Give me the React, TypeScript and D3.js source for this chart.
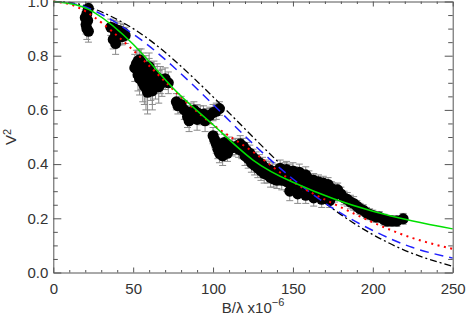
import React, { useEffect, useRef } from "react";
import * as d3 from "d3";

// model curves at these baselines
const modelB = [0, 10, 25, 50, 75, 100, 125, 150, 175, 200, 225, 250];
const udBlack = [1, 0.996, 0.974, 0.9, 0.787, 0.648, 0.5, 0.357, 0.235, 0.14, 0.07, 0.023];
const ldBlue = [1, 0.994, 0.968, 0.88, 0.76, 0.62, 0.475, 0.345, 0.237, 0.155, 0.092, 0.053];
const fitRed = [1, 0.99, 0.945, 0.82, 0.675, 0.545, 0.445, 0.335, 0.255, 0.185, 0.127, 0.087];
const fitGreen = [1, 0.993, 0.962, 0.842, 0.68, 0.545, 0.415, 0.333, 0.273, 0.226, 0.19, 0.161];

// observed points: [B/lambda, V^2, error]
const visC1 = [
  [22, 0.975, 0.02], [21, 0.955, 0.03], [20, 0.94, 0.03], [21.5, 0.93, 0.035],
  [20.5, 0.915, 0.035], [21, 0.9, 0.04], [22, 0.89, 0.04],
];
const visC2 = [
  [36, 0.905, 0.03], [38, 0.9, 0.03], [40, 0.895, 0.03], [42, 0.89, 0.03], [44, 0.885, 0.03],
  [45, 0.875, 0.03], [39, 0.88, 0.03], [41, 0.875, 0.035], [37.5, 0.86, 0.035], [39, 0.845, 0.04],
  [43, 0.87, 0.03],
];
const visC3 = [
  [51, 0.755, 0.05], [52, 0.77, 0.05], [53, 0.78, 0.04], [54, 0.785, 0.04], [55, 0.775, 0.05],
  [56, 0.76, 0.05], [53, 0.73, 0.06], [54, 0.715, 0.06], [56, 0.7, 0.07], [57, 0.69, 0.07],
  [58, 0.68, 0.08], [59, 0.72, 0.06], [60, 0.74, 0.05], [61, 0.705, 0.07], [62, 0.69, 0.07],
  [63, 0.73, 0.05], [64, 0.7, 0.06], [65, 0.72, 0.05], [66, 0.685, 0.06], [67, 0.71, 0.05],
  [68, 0.7, 0.05], [70, 0.715, 0.04], [72, 0.7, 0.04], [58, 0.75, 0.05], [60, 0.76, 0.05],
  [55, 0.735, 0.06], [62, 0.67, 0.07], [59, 0.665, 0.08],
];
const visC4 = [
  [77, 0.63, 0.03], [78, 0.615, 0.03], [80, 0.62, 0.03], [82, 0.6, 0.035], [84, 0.575, 0.04],
  [85, 0.56, 0.04], [86, 0.59, 0.035], [88, 0.6, 0.03], [90, 0.59, 0.03], [92, 0.58, 0.035],
  [94, 0.585, 0.03], [96, 0.575, 0.03], [98, 0.58, 0.03], [100, 0.59, 0.03], [102, 0.595, 0.03],
  [104, 0.605, 0.025], [90, 0.565, 0.04], [95, 0.56, 0.04],
];
const visC5 = [
  [100, 0.505, 0.03], [101, 0.49, 0.03], [102, 0.475, 0.035], [103, 0.455, 0.035], [104, 0.44, 0.035],
  [105, 0.465, 0.03], [107, 0.48, 0.03], [108, 0.455, 0.03], [110, 0.47, 0.03], [112, 0.46, 0.03],
  [114, 0.465, 0.03], [116, 0.455, 0.03], [106, 0.43, 0.035], [109, 0.44, 0.03],
];
const visC6 = [
  [117, 0.475, 0.03], [118, 0.45, 0.03], [119, 0.465, 0.03], [120, 0.43, 0.035], [121, 0.45, 0.03],
  [122, 0.42, 0.035], [123, 0.44, 0.03], [124, 0.405, 0.035], [125, 0.425, 0.03], [126, 0.395, 0.035],
  [127, 0.415, 0.03], [128, 0.385, 0.035], [129, 0.405, 0.03], [130, 0.375, 0.035], [131, 0.395, 0.03],
  [132, 0.365, 0.035], [133, 0.385, 0.03], [134, 0.36, 0.03], [135, 0.38, 0.03], [136, 0.35, 0.035],
  [137, 0.375, 0.03], [138, 0.345, 0.03], [139, 0.37, 0.03], [140, 0.34, 0.03], [141, 0.365, 0.03],
  [142, 0.385, 0.03], [143, 0.34, 0.035], [144, 0.36, 0.03], [145, 0.375, 0.03], [146, 0.335, 0.035],
  [147, 0.355, 0.03], [148, 0.37, 0.03], [149, 0.33, 0.03], [150, 0.35, 0.03], [151, 0.36, 0.03],
  [152, 0.325, 0.03], [153, 0.345, 0.03], [154, 0.355, 0.03], [155, 0.32, 0.03], [156, 0.34, 0.03],
  [157, 0.35, 0.03], [158, 0.315, 0.03], [159, 0.335, 0.03], [160, 0.345, 0.03], [161, 0.31, 0.03],
  [162, 0.33, 0.03], [163, 0.34, 0.025], [164, 0.305, 0.03], [165, 0.325, 0.025], [166, 0.335, 0.025],
  [167, 0.3, 0.03], [168, 0.32, 0.025], [169, 0.33, 0.025], [170, 0.295, 0.025], [171, 0.315, 0.025],
  [172, 0.325, 0.025], [173, 0.29, 0.025], [174, 0.31, 0.025], [175, 0.305, 0.025], [176, 0.285, 0.025],
  [177, 0.3, 0.025], [178, 0.305, 0.025], [146, 0.38, 0.03], [150, 0.375, 0.03], [154, 0.37, 0.03],
  [158, 0.36, 0.03], [148, 0.3, 0.035], [153, 0.29, 0.035], [158, 0.285, 0.03], [163, 0.275, 0.03],
  [168, 0.27, 0.03], [173, 0.265, 0.025],
];
const visC7 = [
  [180, 0.29, 0.025], [182, 0.275, 0.025], [184, 0.27, 0.025], [186, 0.26, 0.025], [188, 0.255, 0.025],
  [190, 0.245, 0.02], [192, 0.235, 0.02], [194, 0.23, 0.02], [196, 0.22, 0.02], [198, 0.215, 0.02],
  [200, 0.21, 0.02], [202, 0.205, 0.02], [204, 0.205, 0.02], [207, 0.195, 0.02], [209, 0.19, 0.02],
  [212, 0.19, 0.02], [215, 0.19, 0.02], [219, 0.198, 0.02],
];

const xMajor = [0, 50, 100, 150, 200, 250];
const xMinor = d3.range(10, 250, 10).filter((v) => v % 50 !== 0);
const yMajor = [0, 0.2, 0.4, 0.6, 0.8, 1.0];
const yMinor = d3.range(1, 20).map((i) => i * 0.05).filter((_, i) => (i + 1) % 4 !== 0);

const width = 466;
const height = 316;
const left = 53.3;
const right = 452.7;
const top = 1.5;
const bottom = 272.5;
const axisColor = "#555";
const font = "'Liberation Sans', Arial, Helvetica, sans-serif";

const Axis = ({ scale, orient, transform, values, size, labels, format, pad, domain }: any) => {
  const axisRef = useRef<SVGGElement>(null);

  useEffect(() => {
    const gen =
      orient === "bottom"
        ? d3.axisBottom(scale)
        : orient === "top"
        ? d3.axisTop(scale)
        : orient === "left"
        ? d3.axisLeft(scale)
        : d3.axisRight(scale);
    gen
      .tickValues(values)
      .tickSizeInner(-size)
      .tickSizeOuter(0)
      .tickPadding(pad || 0)
      .tickFormat(labels ? format : () => "");
    const g = d3.select(axisRef.current);
    g.call(gen as any);
    g.attr("color", axisColor);
    if (!domain) g.select(".domain").remove();
    g.selectAll("text")
      .style("font-family", font)
      .style("font-size", "15px")
      .attr("fill", "#333");
  }, [scale, orient, values, size, labels]);

  return <g ref={axisRef} transform={transform} />;
};

export default function App() {
  const x = d3.scaleLinear().domain([0, 250]).range([left, right]);
  const y = d3.scaleLinear().domain([0, 1]).range([bottom, top]);

  const line = d3
    .line<number>()
    .x((_, i) => x(modelB[i]))
    .y((d) => y(d))
    .curve(d3.curveNatural);

  const points = [...visC1, ...visC2, ...visC3, ...visC4, ...visC5, ...visC6, ...visC7];
  const fmt = d3.format(".1f");

  return (
    <svg width={width} height={height} style={{ position: "absolute", left: 0, top: 0, background: "#fff" }}>
      <rect x={0} y={0} width={width} height={height} fill="#fff" />
      {/* error bars */}
      <g stroke="#8a8a8a" strokeWidth={1}>
        {points.map((p, i) => {
          const cx = x(p[0]);
          const y1 = y(p[1] - p[2]);
          const y2 = y(p[1] + p[2]);
          return (
            <g key={i}>
              <line x1={cx} x2={cx} y1={y1} y2={y2} />
              <line x1={cx - 3.5} x2={cx + 3.5} y1={y1} y2={y1} />
              <line x1={cx - 3.5} x2={cx + 3.5} y1={y2} y2={y2} />
            </g>
          );
        })}
      </g>
      <g fill="#000">
        {points.map((p, i) => (
          <circle key={i} cx={x(p[0])} cy={y(p[1])} r={5.5} />
        ))}
      </g>
      {/* models */}
      <path d={line(udBlack) || ""} fill="none" stroke="#000" strokeWidth={1.3} strokeDasharray="7,3,2,3" />
      <path d={line(ldBlue) || ""} fill="none" stroke="#2020ff" strokeWidth={1.5} strokeDasharray="9,6" />
      <path d={line(fitRed) || ""} fill="none" stroke="#ff0000" strokeWidth={2} strokeDasharray="2,4.5" />
      <path d={line(fitGreen) || ""} fill="none" stroke="#00e000" strokeWidth={1.5} />

      {/* axes */}
      <Axis scale={x} orient="bottom" transform={`translate(0,${bottom})`} values={xMajor} size={5} labels format={(d: number) => String(d)} pad={11} domain />
      <Axis scale={x} orient="bottom" transform={`translate(0,${bottom})`} values={xMinor} size={2.5} />
      <Axis scale={x} orient="top" transform={`translate(0,${top})`} values={xMajor} size={5} domain />
      <Axis scale={x} orient="top" transform={`translate(0,${top})`} values={xMinor} size={2.5} />
      <Axis scale={y} orient="left" transform={`translate(${left},0)`} values={yMajor} size={8} labels format={(d: number) => fmt(d)} pad={5} domain />
      <Axis scale={y} orient="left" transform={`translate(${left},0)`} values={yMinor} size={4.5} />
      <Axis scale={y} orient="right" transform={`translate(${right},0)`} values={yMajor} size={8} domain />
      <Axis scale={y} orient="right" transform={`translate(${right},0)`} values={yMinor} size={4.5} />

      <text x={(left + right) / 2} y={313} textAnchor="middle" fontFamily={font} fontSize={15} fill="#333">
        B/λ x10
        <tspan fontSize={11} dy={-7}>−6</tspan>
      </text>
      <text transform={`translate(15.5,${(top + bottom) / 2}) rotate(-90)`} textAnchor="middle" fontFamily={font} fontSize={15} fill="#333">
        V<tspan fontSize={11} dy={-5}>2</tspan>
      </text>
    </svg>
  );
}
